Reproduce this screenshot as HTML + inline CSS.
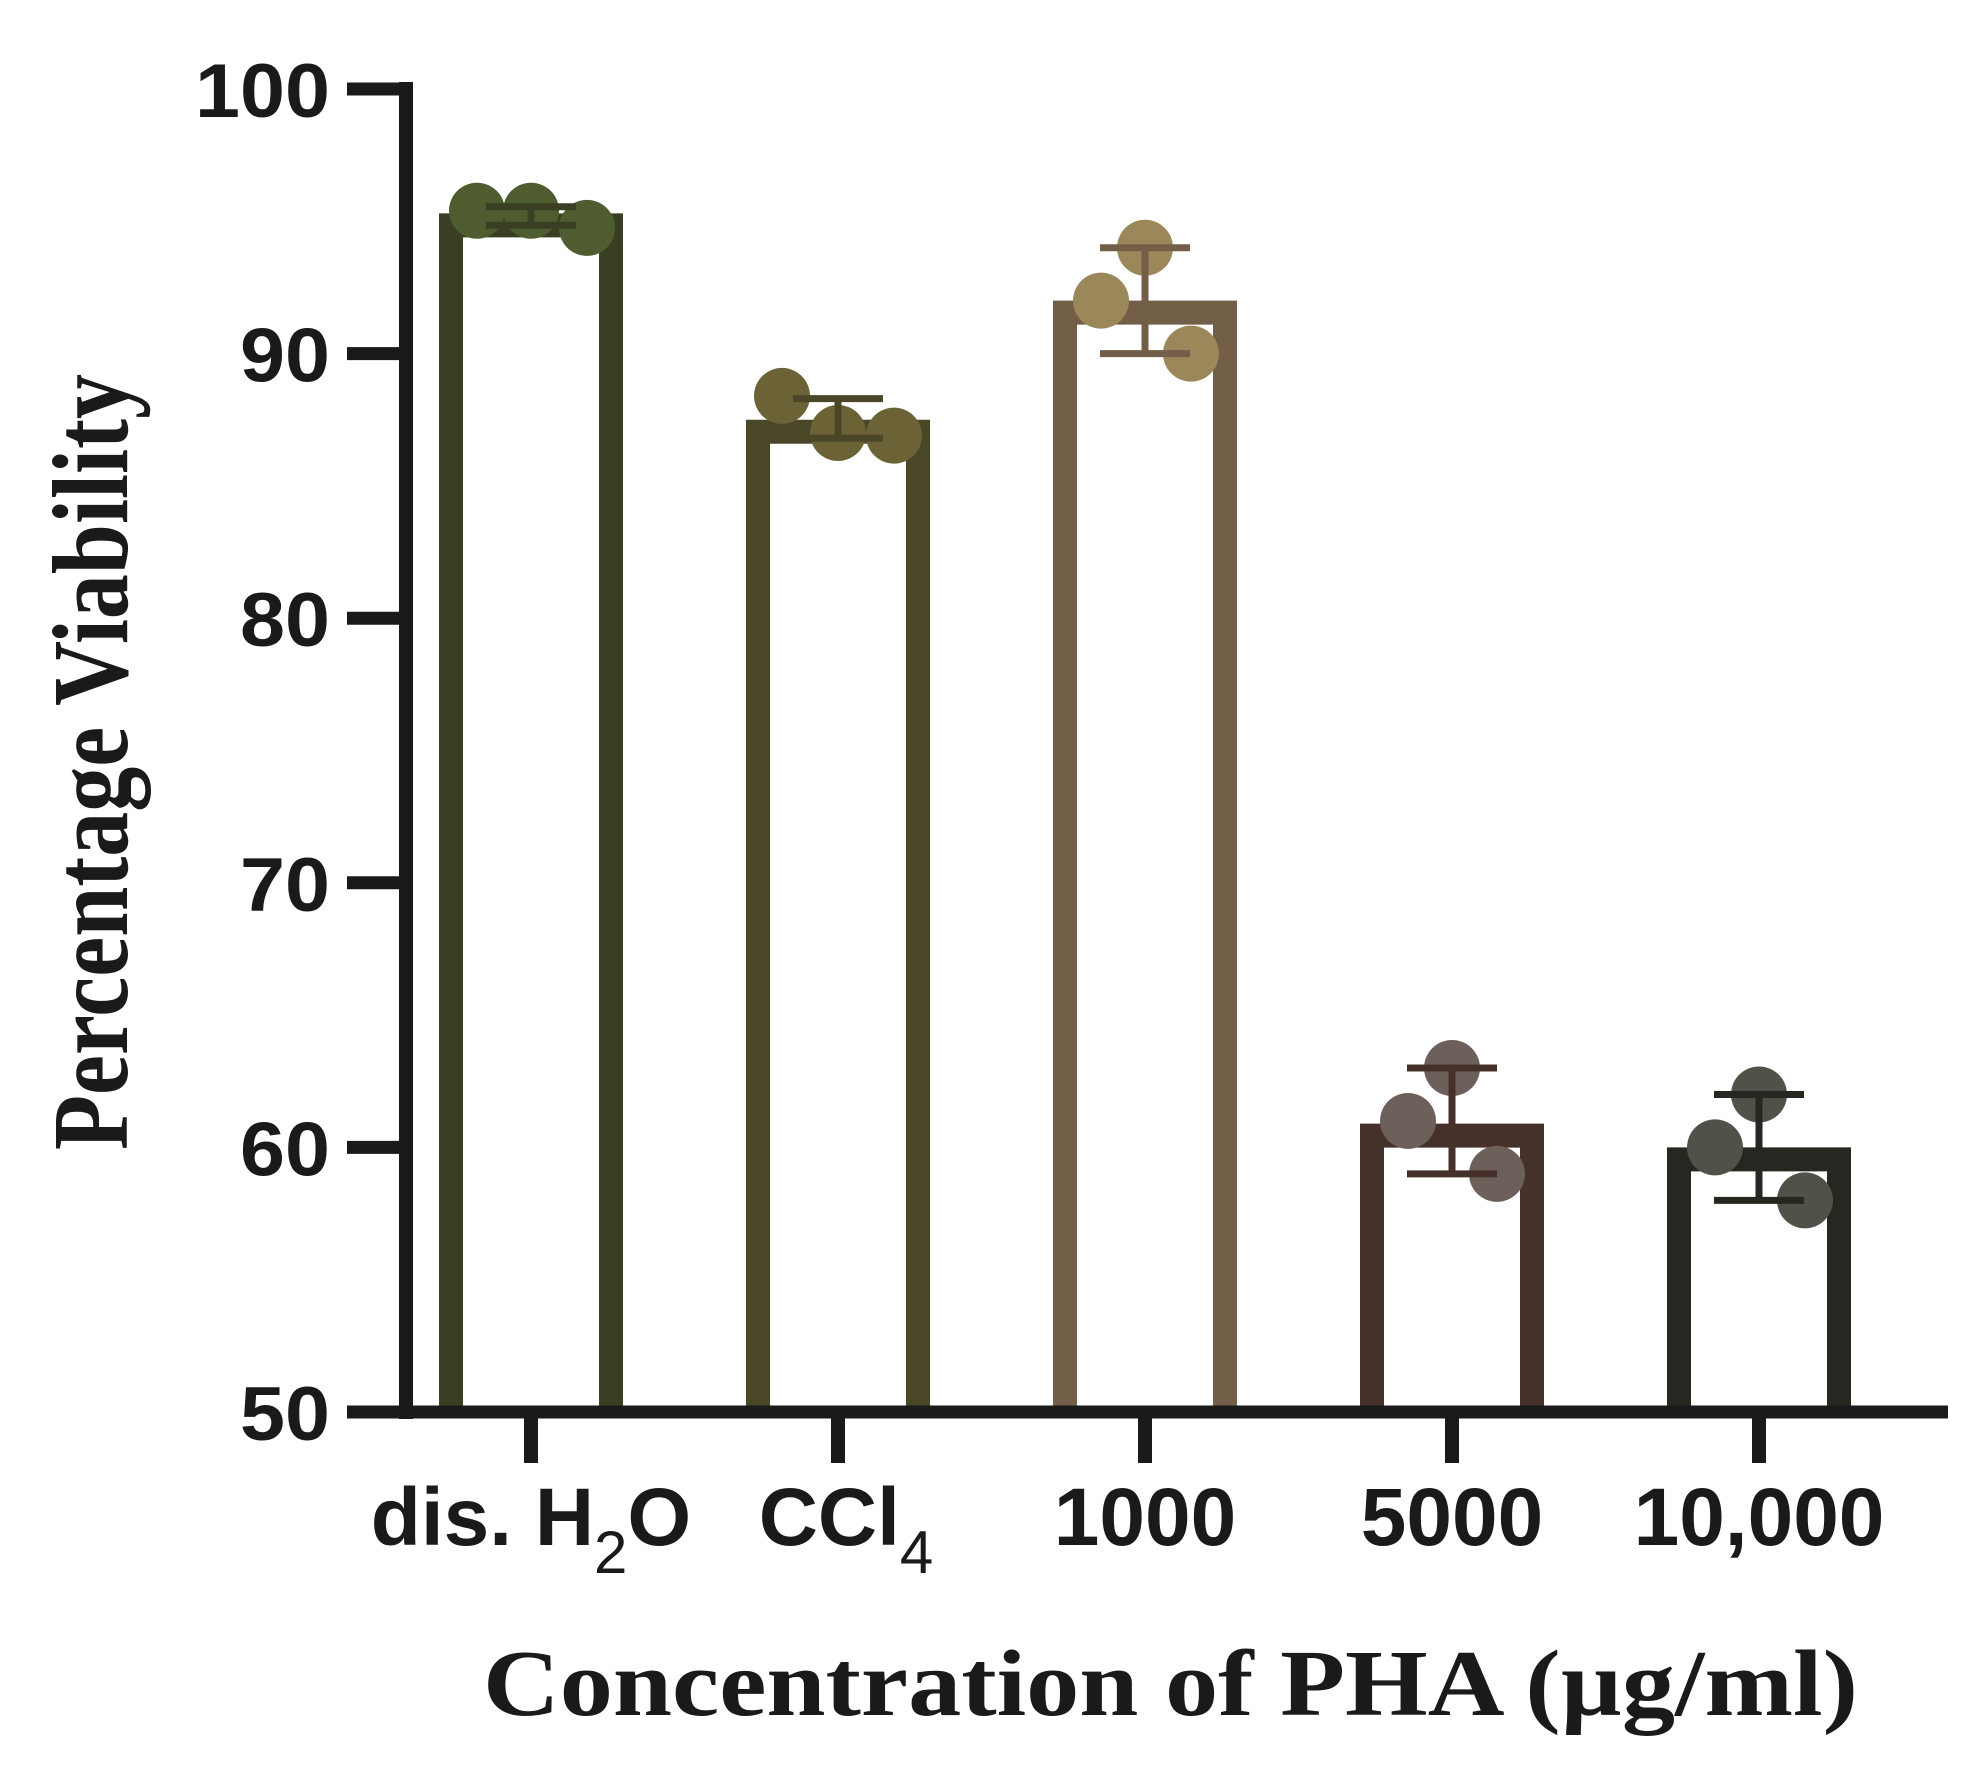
<!DOCTYPE html>
<html><head><meta charset="utf-8"><style>html,body{margin:0;padding:0;background:#fff}svg{display:block}</style></head>
<body>
<svg id="chart" xmlns="http://www.w3.org/2000/svg" width="1977" height="1781" viewBox="0 0 1977 1781">
<rect x="0" y="0" width="1977" height="1781" fill="#fff"/>
<g id="marks"></g>
<g id="axes"></g>
</svg>
<script>
const categories = ["dis. H2O", "CCl4", "1000", "5000", "10,000"];
const means = [95.3, 87.5, 92.0, 60.9, 60.0];
const point1 = [95.4, 88.4, 94.0, 63.0, 62.0];
const point2 = [95.4, 87.0, 92.0, 61.0, 60.0];
const point3 = [94.75, 86.9, 90.0, 59.0, 58.0];
const errHigh = [95.55, 88.3, 94.0, 63.0, 62.0];
const errLow = [94.85, 86.8, 90.0, 59.0, 58.0];
const yTicks = [50, 60, 70, 80, 90, 100];

const barColors = ["#3a3f24", "#4a4628", "#735e48", "#46302a", "#262721"];
const dotColors = ["#4f5c30", "#6b6236", "#9a875a", "#6d5f5a", "#50524a"];
const jitter = [[-54,0,56],[-56,0,56],[0,-44,46],[0,-44,45],[0,-44,46]];

const NS = "http://www.w3.org/2000/svg";
const yMin = 50, yMax = 100, yTop = 89, yBot = 1412;
function y(v){ return yBot - (v - yMin) / (yMax - yMin) * (yBot - yTop); }
const x0 = 531, step = 307;
function x(i){ return x0 + i * step; }
function mk(tag, attrs, parent){
  const e = document.createElementNS(NS, tag);
  for (const k in attrs) e.setAttribute(k, attrs[k]);
  parent.appendChild(e);
  return e;
}
const marks = document.getElementById('marks');
const axes = document.getElementById('axes');
const barW = 184, sw = 24;

categories.forEach((c, i) => {
  const cx = x(i);
  const top = y(means[i]);
  const l = cx - barW/2 + sw/2, r = cx + barW/2 - sw/2, t = top + sw/2;
  const bar = mk('path', {d: `M${l},${yBot} L${l},${t} L${r},${t} L${r},${yBot}`, fill: 'none', stroke: barColors[i], 'stroke-width': sw, 'stroke-linejoin': 'miter'}, marks);
  
  
  [point1, point2, point3].forEach((arr, k) => {
    const d = mk('circle', {cx: cx + jitter[i][k], cy: y(arr[i]), r: 28, fill: dotColors[i]}, marks);
    
    
  });
  const g = mk('g', {stroke: barColors[i], 'stroke-width': 7}, marks);
  
  
  mk('line', {x1: cx, x2: cx, y1: y(errHigh[i]), y2: y(errLow[i])}, g);
  mk('line', {x1: cx - 45, x2: cx + 45, y1: y(errHigh[i]), y2: y(errHigh[i])}, g);
  mk('line', {x1: cx - 45, x2: cx + 45, y1: y(errLow[i]), y2: y(errLow[i])}, g);
  const tk = mk('line', {x1: cx, x2: cx, y1: yBot, y2: 1463, stroke: '#1a1a1a', 'stroke-width': 14}, axes);
  
  
});

const ya = mk('line', {x1: 406, x2: 406, y1: 82, y2: 1419, stroke: '#1a1a1a', 'stroke-width': 14}, axes);


const xa = mk('line', {x1: 347, x2: 1948, y1: yBot, y2: yBot, stroke: '#1a1a1a', 'stroke-width': 13}, axes);



yTicks.forEach(v => {
  const l = mk('line', {x1: 347, x2: 406, y1: y(v), y2: y(v), stroke: '#1a1a1a', 'stroke-width': 13}, axes);
  
  
  const w = String(v).length === 3 ? 135 : 90;
  const t = mk('text', {x: 330 - w, y: y(v) + 28, 'font-family': 'Liberation Sans, Arial, sans-serif', 'font-weight': 'bold', 'font-size': 76, fill: '#1a1a1a', textLength: w, lengthAdjust: 'spacingAndGlyphs'}, axes);
  t.textContent = v;
  
  
});

categories.forEach((c, i) => {
  const t = mk('text', {x: x(i) + (i===1 ? 8 : 0), y: 1545, 'text-anchor': 'middle', 'font-family': 'Liberation Sans, Arial, sans-serif', 'font-weight': 'bold', 'font-size': 82, fill: '#1a1a1a'}, axes);
  
  
  if (i === 0 || i === 1) {
    const base = i === 0 ? 'dis. H' : 'CCl';
    const sub = i === 0 ? '2' : '4';
    const tail = i === 0 ? 'O' : '';
    const s1 = mk('tspan', {}, t); s1.textContent = base;
    const s2 = mk('tspan', {dy: 28, 'font-size': 60, 'font-weight': 'normal'}, t); s2.textContent = sub;
    if (tail) { const s3 = mk('tspan', {dy: -28}, t); s3.textContent = tail; }
  } else {
    t.textContent = c;
  }
});

const xt = mk('text', {x: 483, y: 1715, 'font-family': 'Liberation Serif, Times New Roman, serif', 'font-weight': 'bold', 'font-size': 94, fill: '#1a1a1a', textLength: 1375, lengthAdjust: 'spacingAndGlyphs'}, axes);
xt.textContent = 'Concentration of PHA (µg/ml)';


const yt = mk('text', {x: 0, y: 0, transform: 'translate(127,1150) rotate(-90)', 'font-family': 'Liberation Serif, Times New Roman, serif', 'font-weight': 'bold', 'font-size': 108, fill: '#1a1a1a', textLength: 776, lengthAdjust: 'spacingAndGlyphs'}, axes);
yt.textContent = 'Percentage Viability';


</script>
</body></html>
